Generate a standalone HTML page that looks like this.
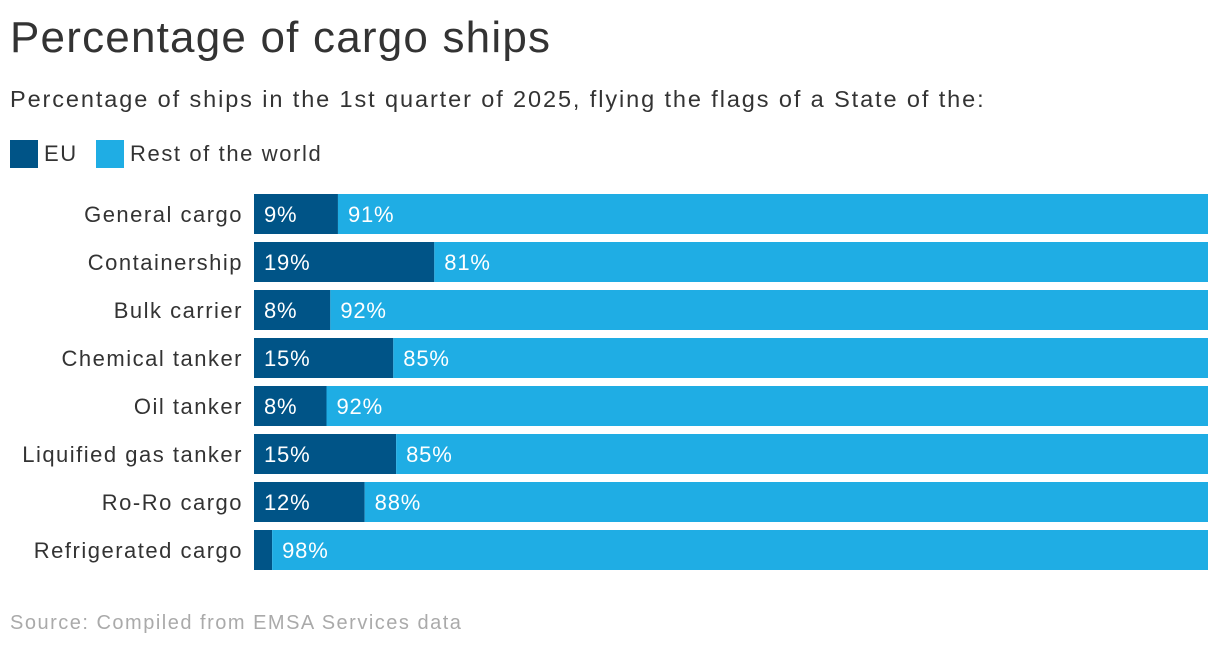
<!DOCTYPE html>
<html><head><meta charset="utf-8">
<style>
body{margin:0;width:1220px;height:650px;background:#fff;font-family:"Liberation Sans",sans-serif;overflow:hidden;position:relative}
#title{position:absolute;left:10px;top:13px;font-size:44px;color:#333;letter-spacing:1.2px}
#sub{position:absolute;left:10px;top:86px;font-size:23.5px;color:#333;letter-spacing:1.9px}
.leg{position:absolute;top:140px;height:28px;display:flex;align-items:center;font-size:22px;color:#333;letter-spacing:1.6px}
.sw{width:28px;height:28px;margin-right:6px}
#src{position:absolute;left:10px;top:612px;font-size:20px;color:#aaa;letter-spacing:1.5px}
</style></head><body>
<div id="title">Percentage of cargo ships</div>
<div id="sub">Percentage of ships in the 1st quarter of 2025, flying the flags of a State of the:</div>
<div class="leg" style="left:10px"><div class="sw" style="background:#005487"></div>EU</div>
<div class="leg" style="left:96px"><div class="sw" style="background:#1fade4"></div>Rest of the world</div>
<svg id="chart" width="1220" height="650" style="position:absolute;left:0;top:0"></svg>
<div id="src">Source: Compiled from EMSA Services data</div>
<script>
const categories=["General cargo","Containership","Bulk carrier","Chemical tanker","Oil tanker","Liquified gas tanker","Ro-Ro cargo","Refrigerated cargo"];
const euValues=[8.8,18.9,8,14.6,7.6,14.9,11.6,1.9];
const x0=254,x1=1208,top0=194,step=48,bh=40;
const xs=v=>x0+(x1-x0)*v/100;
const ys=i=>top0+i*step;
const svg=document.getElementById('chart');
const NS="http://www.w3.org/2000/svg";
function mk(t,a){const e=document.createElementNS(NS,t);for(const k in a)e.setAttribute(k,a[k]);svg.appendChild(e);return e;}
categories.forEach((c,i)=>{
  const v=euValues[i],y=ys(i);
  const lab=mk('text',{x:243,y:y+bh/2+8,'text-anchor':'end','font-size':22,fill:'#333','letter-spacing':'1.5px'});
  lab.textContent=c;
  
  
  const r1=mk('rect',{x:x0,y:y,width:xs(v)-x0,height:bh,fill:'#005487'});
  
  
  const r2=mk('rect',{x:xs(v),y:y,width:x1-xs(v),height:bh,fill:'#1fade4'});
  
  
  if(xs(v)-x0>40){
    const t1=mk('text',{x:x0+10,y:y+bh/2+8,'font-size':22,fill:'#fff','letter-spacing':'0.8px'});
    t1.textContent=Math.round(v)+'%';
    
    
  }
  const t2=mk('text',{x:xs(v)+10,y:y+bh/2+8,'font-size':22,fill:'#fff','letter-spacing':'0.8px'});
  t2.textContent=Math.round(100-v)+'%';
  
  
});
</script>
</body></html>
